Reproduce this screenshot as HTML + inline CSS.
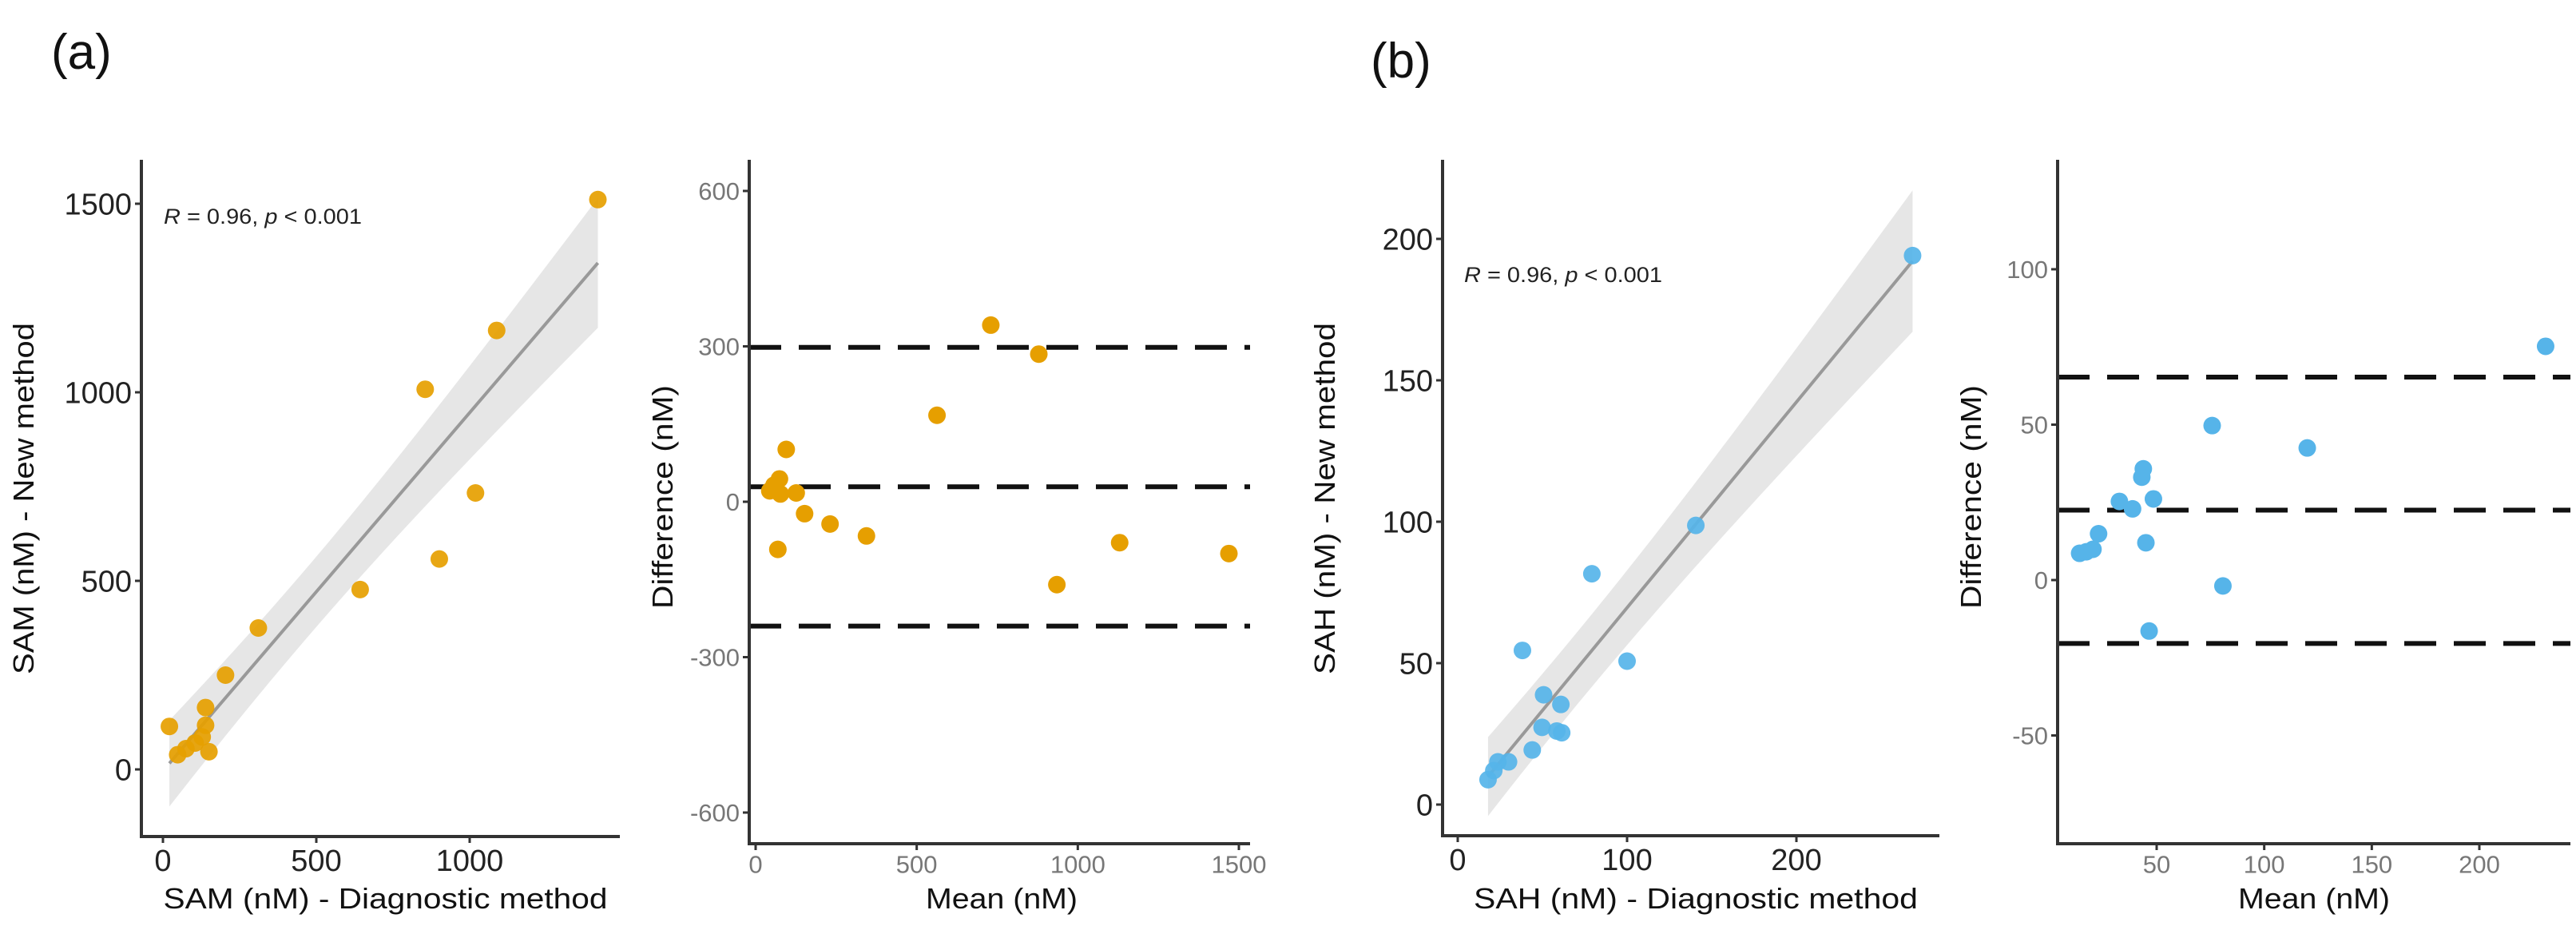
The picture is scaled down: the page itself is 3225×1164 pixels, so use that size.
<!DOCTYPE html>
<html><head><meta charset="utf-8">
<style>
html,body{margin:0;padding:0;background:#fff;}
svg{display:block;font-family:"Liberation Sans",Arial,sans-serif;}
</style></head>
<body>
<svg id="chart" width="3225" height="1164" viewBox="0 0 3225 1164" xmlns="http://www.w3.org/2000/svg">
<text x="64" y="86" font-size="62" fill="#111">(a)</text>
<text x="1716" y="97" font-size="62" fill="#111">(b)</text>
</svg>
<script>
// ---- Panel a: SAM correlation ----
const samDiagnostic = [1418,1088,855,1019,901,643,311,204,139,139,21,150,105,75,48,128];
const samNew        = [1511,1164,1008,733,558,477,375,250,164,117,114,47,70,55,39,86];
const samXTicks = [0,500,1000];
const samYTicks = [0,500,1000,1500];
// ---- Panel a: SAM Bland-Altman ----
const samMean = [730,879,563,95,74,44,77,126,152,231,344,69,1130,1469,935,57];
const samDiff = [341,285,167,101,44,21,15,17,-23,-43,-66,-92,-79,-100,-160,32];
const samBaLines = [298,29,-240];
const samBaXTicks = [0,500,1000,1500];
const samBaYTicks = [-600,-300,0,300,600];
// ---- Panel b: SAH correlation ----
const sahDiagnostic = [268.6,140.6,79.2,38.2,100,50.7,60.9,49.8,58.5,61.4,44,30,23.7,21.3,17.9];
const sahNew        = [194.1,98.7,81.6,54.5,50.7,38.8,35.4,27.3,26,25.4,19.3,15.1,15.1,12,8.8];
const sahXTicks = [0,100,200];
const sahYTicks = [0,50,100,150,200];
// ---- Panel b: SAH Bland-Altman ----
const sahMean = [230.8,75.8,120,43.8,43.1,32.7,48.5,38.8,45,23,20.4,17.3,14.2,80.8,46.5];
const sahDiff = [75.2,49.7,42.5,35.8,33.1,25.3,26.1,22.9,12,14.9,9.9,9.1,8.6,-1.9,-16.4];
const sahBaLines = [65.3,22.5,-20.4];
const sahBaXTicks = [50,100,150,200];
const sahBaYTicks = [-50,0,50,100];

const NS="http://www.w3.org/2000/svg";
const svg=document.getElementById('chart');
function mk(tag,attrs,parent){const e=document.createElementNS(NS,tag);for(const k in attrs)e.setAttribute(k,attrs[k]);(parent||svg).appendChild(e);return e;}
function lin(d0,d1,r0,r1){return v=>r0+(v-d0)*(r1-r0)/(d1-d0);}

function axes(g,P,xs,ys,xt,yt,tickColor,tickSize,name){
  const ax=mk('line',{x1:P.left,y1:P.top,x2:P.left,y2:P.bottom,stroke:'#333',"stroke-width":4},g);
  
  
  const bx=mk('line',{x1:P.left-2,y1:P.bottom,x2:P.right,y2:P.bottom,stroke:'#333',"stroke-width":4},g);
  
  
  yt.forEach(v=>{
    const y=ys(v);
    mk('line',{x1:P.left-8,y1:y,x2:P.left,y2:y,stroke:'#333',"stroke-width":3},g);
    const t=mk('text',{x:P.left-12,y:y+tickSize*0.36,"text-anchor":"end","font-size":tickSize,fill:tickColor},g);
    t.textContent=v;
    
    
  });
  xt.forEach(v=>{
    const x=xs(v);
    mk('line',{x1:x,y1:P.bottom,x2:x,y2:P.bottom+8,stroke:'#333',"stroke-width":3},g);
    const t=mk('text',{x:x,y:P.bottom+8+tickSize*0.92,"text-anchor":"middle","font-size":tickSize,fill:tickColor},g);
    t.textContent=v;
    
    
  });
}
function titles(g,xT,xCx,xLen,yT,yCx,yCy,yLen,name){
  const t=mk('text',{x:xCx,y:1137,"text-anchor":"middle","font-size":36,fill:'#111',textLength:xLen,lengthAdjust:'spacingAndGlyphs'},g);
  t.textContent=xT;
  
  
  const u=mk('text',{x:0,y:0,"text-anchor":"middle","font-size":36,fill:'#111',textLength:yLen,lengthAdjust:'spacingAndGlyphs',transform:`translate(${yCx},${yCy}) rotate(-90)`},g);
  u.textContent=yT;
  
  
}

function corrPanel(name,P,xs,ys,xv,yv,xt,yt,color,fit,band,xTitle,yTitle,tx,ty){
  const g=mk('g',{});
  
  
  const x0=Math.min(...xv),x1=Math.max(...xv);
  let up=[],dn=[];
  for(let i=0;i<=60;i++){const x=x0+(x1-x0)*i/60;const c=fit.a+fit.b*x;const h=Math.sqrt(band.m*band.m+band.k*(x-band.c)*(x-band.c));up.push([xs(x),ys(c+h)]);dn.push([xs(x),ys(c-h)]);}
  const pts=up.concat(dn.reverse()).map(p=>p.join(',')).join(' ');
  const bnd=mk('polygon',{points:pts,fill:'#e6e6e6'},g);
  
  
  const ln=mk('line',{x1:xs(x0),y1:ys(fit.a+fit.b*x0),x2:xs(x1),y2:ys(fit.a+fit.b*x1),stroke:'#999',"stroke-width":4},g);
  
  
  xv.forEach((v,i)=>{
    const c=mk('circle',{cx:xs(v),cy:ys(yv[i]),r:11,fill:color,"fill-opacity":0.92},g);
    
    
  });
  axes(g,P,xs,ys,xt,yt,'#222',38,name);
  const r=mk('text',{x:tx,y:ty,"font-size":27,fill:'#222',textLength:248,lengthAdjust:'spacingAndGlyphs'},g);
  r.innerHTML='<tspan font-style="italic">R</tspan> = 0.96, <tspan font-style="italic">p</tspan> &lt; 0.001';
  
  
  titles(g,xTitle,(P.left+P.right)/2+6,556,yTitle,P.left-135,624,440,name);
}
function baPanel(name,P,xs,ys,xv,yv,lines,xt,yt,color,yTitleX,xTitleCx){
  const g=mk('g',{});
  
  
  lines.forEach(v=>{
    const l=mk('line',{x1:P.left,y1:ys(v),x2:P.right,y2:ys(v),stroke:'#111',"stroke-width":6,"stroke-dasharray":"40 22"},g);
    
    
  });
  xv.forEach((v,i)=>{
    const c=mk('circle',{cx:xs(v),cy:ys(yv[i]),r:11,fill:color},g);
    
    
  });
  axes(g,P,xs,ys,xt,yt,'#777',31,name);
  titles(g,'Mean (nM)',xTitleCx,190,'Difference (nM)',yTitleX,622,280,name);
}

// Panel a1
{const P={left:177,right:776,top:200,bottom:1047};
 corrPanel('sam-correlation-panel',P,lin(0,1000,204,588),lin(0,1500,963,255),samDiagnostic,samNew,samXTicks,samYTicks,'#E69F00',
  {a:-4,b:0.95},{m:93,k:0.0228,c:459},'SAM (nM) - Diagnostic method','SAM (nM) - New method',205,280);}
// Panel a2
{const P={left:938,right:1565,top:200,bottom:1056};
 baPanel('sam-bland-altman-panel',P,lin(0,1500,946,1551),lin(0,600,628,239),samMean,samDiff,samBaLines,samBaXTicks,samBaYTicks,'#E69F00',842,1254);}
// Panel b1
{const P={left:1806,right:2428,top:200,bottom:1046};
 corrPanel('sah-correlation-panel',P,lin(0,100,1825,2037),lin(0,200,1007,299),sahDiagnostic,sahNew,sahXTicks,sahYTicks,'#56B4E9',
  {a:-3.1,b:0.727},{m:12.8,k:0.01165,c:69.7},'SAH (nM) - Diagnostic method','SAH (nM) - New method',1833,353);}
// Panel b2
{const P={left:2576,right:3218,top:200,bottom:1056};
 baPanel('sah-bland-altman-panel',P,lin(50,200,2700,3104),lin(0,100,726,337),sahMean,sahDiff,sahBaLines,sahBaXTicks,sahBaYTicks,'#56B4E9',2480,2897);}
</script>
</body></html>
